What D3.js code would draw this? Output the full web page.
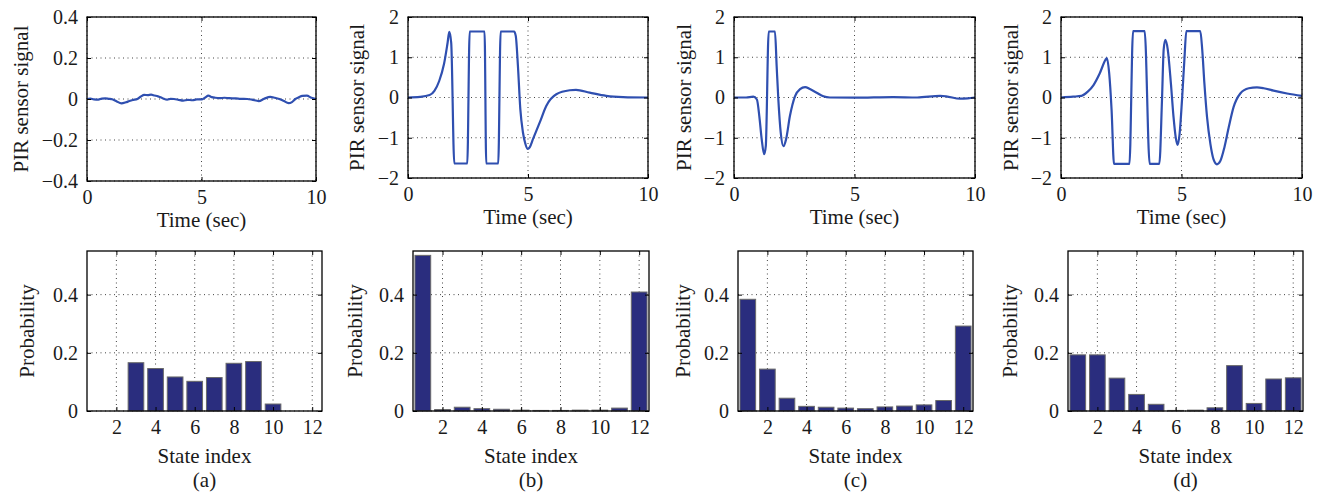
<!DOCTYPE html>
<html>
<head>
<meta charset="utf-8">
<script src="https://cdn.jsdelivr.net/npm/d3@7"></script>
<style>
  body { margin: 0; background: #fff; }
  svg text { font-family: "Liberation Serif", Times, "Times New Roman", "DejaVu Serif", serif !important; fill: #1a1a1a; }
  .tick text { font-size: 20px; }
  .tick line { stroke: #000; }
</style>
</head>
<body>
<svg width="1317" height="496"></svg>
<script>
// ---- data ----
// PIR signals, [time (sec), value]
var sigA = [[0,0],[0.15,0.002],[0.3,-0.002],[0.5,-0.003],[0.65,0.002],[0.8,0.003],[0.95,0.001],[1.1,-0.001],[1.3,-0.012],[1.5,-0.021],[1.7,-0.016],[1.85,-0.01],[2.0,-0.005],[2.2,0],
  [2.35,0.012],[2.5,0.02],[2.65,0.019],[2.8,0.021],[2.95,0.017],[3.1,0.013],[3.3,0.004],[3.5,-0.003],[3.65,0.001],[3.8,0],[4.0,-0.004],[4.2,-0.008],[4.4,-0.004],[4.6,-0.006],[4.8,-0.002],[5.0,-0.002],[5.15,0.006],[5.3,0.016],
  [5.45,0.009],[5.6,0.006],[5.8,0.004],[6.0,0.006],[6.2,0.004],[6.5,0.003],[6.7,0.001],[7.0,0],[7.2,-0.003],[7.5,-0.01],[7.75,0.002],[8.0,0.01],[8.2,0.006],[8.4,0],[8.6,-0.01],[8.8,-0.02],[8.95,-0.015],[9.1,0],[9.25,0.008],[9.4,0.015],[9.6,0.016],[9.8,0.006],[10,0]];

var sigB = [[0,0],[0.5,0.015],[0.9,0.06],[1.1,0.165],[1.3,0.41],[1.5,0.83],[1.65,1.36],[1.72,1.63],[1.8,1.36],[1.93,-1.64],
  [2.47,-1.64],[2.57,1.64],[3.19,1.64],[3.26,-1.64],[3.76,-1.64],[3.86,1.64],[4.42,1.64],[4.49,1.53],[4.58,0.79],[4.68,-0.29],
  [4.79,-0.87],[4.89,-1.15],[4.99,-1.28],[5.07,-1.24],[5.21,-1.03],[5.49,-0.62],[5.76,-0.21],[6.18,0.08],[6.74,0.18],[7.0,0.19],
  [7.57,0.12],[8.26,0.04],[8.96,0.01],[10,0]];

var sigC = [[0,0],[0.5,0],[0.8,0.02],[0.95,-0.05],[1.05,-0.46],[1.15,-1.04],[1.25,-1.41],[1.32,-1.2],[1.44,1.64],[1.70,1.64],
  [1.77,0.78],[1.84,-0.05],[1.94,-0.88],[2.05,-1.21],[2.16,-1.04],[2.32,-0.46],[2.53,0.03],[2.74,0.21],[2.95,0.26],[3.15,0.21],
  [3.43,0.12],[3.71,0.03],[3.98,0],[5.0,-0.005],[6.6,0.01],[7.6,0],[8.55,0.04],[8.8,0.03],[9.38,-0.03],[9.7,-0.02],[10,0]];

var sigD = [[0,0],[0.5,0.02],[0.85,0.04],[1.1,0.14],[1.35,0.31],[1.6,0.59],[1.85,0.94],[1.9,0.98],[2.0,0.6],[2.1,-0.32],
  [2.2,-1.65],[2.84,-1.65],[2.99,1.65],[3.47,1.65],[3.68,-1.65],[4.08,-1.65],[4.19,-0.07],[4.26,1.19],[4.33,1.43],[4.43,1.19],
  [4.56,0.35],[4.67,-0.49],[4.76,-0.99],[4.84,-1.18],[4.92,-0.91],[5.02,-0.07],[5.12,0.94],[5.2,1.65],[5.78,1.65],[5.86,1.19],
  [5.95,0.35],[6.06,-0.49],[6.2,-1.16],[6.33,-1.54],[6.47,-1.66],[6.61,-1.58],[6.78,-1.24],[6.96,-0.74],[7.16,-0.24],[7.44,0.1],
  [7.79,0.23],[8.13,0.25],[8.41,0.23],[8.82,0.17],[9.38,0.1],[10,0.04]];

// state probabilities, states 1..12
var states = [1,2,3,4,5,6,7,8,9,10,11,12];
var probA = [0,0,0.166,0.146,0.117,0.102,0.115,0.164,0.170,0.024,0,0];
var probB = [0.535,0.005,0.013,0.008,0.006,0.003,0.002,0.002,0.003,0.003,0.010,0.409];
var probC = [0.384,0.144,0.044,0.016,0.013,0.010,0.008,0.014,0.017,0.021,0.036,0.292];
var probD = [0.193,0.193,0.113,0.057,0.023,0.002,0.003,0.011,0.156,0.026,0.110,0.114];

var timeTicks = [0, 5, 10];
var stateTicks = [2, 4, 6, 8, 10, 12];
var probTicks = [0, 0.2, 0.4];
var captions = ["(a)", "(b)", "(c)", "(d)"];

// ---- layout ----
var svg = d3.select("svg");
var lineColor = "#2f4fb0", barColor = "#2a2d7e";

var topPanels = [
  {sig: sigA, x0: 87, x1: 316, y0: 17, y1: 181, dom: [-0.4, 0.4], ticks: [-0.4, -0.2, 0, 0.2, 0.4], lx: 21},
  {sig: sigB, x0: 408, x1: 648, y0: 17, y1: 178, dom: [-2, 2], ticks: [-2, -1, 0, 1, 2], lx: 357},
  {sig: sigC, x0: 734, x1: 975, y0: 17, y1: 178, dom: [-2, 2], ticks: [-2, -1, 0, 1, 2], lx: 684},
  {sig: sigD, x0: 1061, x1: 1302, y0: 17, y1: 178, dom: [-2, 2], ticks: [-2, -1, 0, 1, 2], lx: 1011}
];
var botPanels = [
  {prob: probA, x0: 87, x1: 322, lx: 27},
  {prob: probB, x0: 413, x1: 649, lx: 355},
  {prob: probC, x0: 738, x1: 973, lx: 683},
  {prob: probD, x0: 1068, x1: 1303, lx: 1010}
];
var by0 = 251, by1 = 411;
var serif = '"Liberation Serif", Times, "Times New Roman", "DejaVu Serif", serif';

function fmt(d) {
  if (Math.abs(d) < 1e-9) return "0";
  return Number.isInteger(d) ? d3.format("d")(d) : d3.format(".1f")(d);
}

function frame(g, x, y, xt, yt, x0, x1, y0, y1) {
  // dotted grid
  g.append("g").selectAll("line").data(xt).join("line")
    .attr("x1", d => x(d)).attr("x2", d => x(d)).attr("y1", y0).attr("y2", y1)
    .attr("stroke", "#444").attr("stroke-width", 1).attr("stroke-dasharray", "1,3.5");
  g.append("g").selectAll("line").data(yt).join("line")
    .attr("y1", d => y(d)).attr("y2", d => y(d)).attr("x1", x0).attr("x2", x1)
    .attr("stroke", "#444").attr("stroke-width", 1).attr("stroke-dasharray", "1,3.5");
}

function axes(g, x, y, xt, yt, x0, x1, y0, y1) {
  g.append("g").attr("transform", "translate(0," + y1 + ")")
    .call(d3.axisBottom(x).tickValues(xt).tickFormat(fmt).tickSizeInner(-4).tickSizeOuter(0).tickPadding(9))
    .call(a => a.select(".domain").remove());
  g.append("g").attr("transform", "translate(0," + y0 + ")")
    .call(d3.axisTop(x).tickValues(xt).tickFormat("").tickSizeInner(-4).tickSizeOuter(0))
    .call(a => a.select(".domain").remove());
  g.append("g").attr("transform", "translate(" + x0 + ",0)")
    .call(d3.axisLeft(y).tickValues(yt).tickFormat(fmt).tickSizeInner(-4).tickSizeOuter(0).tickPadding(9))
    .call(a => a.select(".domain").remove());
  g.append("g").attr("transform", "translate(" + x1 + ",0)")
    .call(d3.axisRight(y).tickValues(yt).tickFormat("").tickSizeInner(-4).tickSizeOuter(0))
    .call(a => a.select(".domain").remove());
  g.selectAll("g").attr("font-family", serif).attr("font-size", 20);
  g.append("rect").attr("x", x0).attr("y", y0).attr("width", x1 - x0).attr("height", y1 - y0)
    .attr("fill", "none").attr("stroke", "#000").attr("stroke-width", 1.3);
}

function label(g, x, y, rot, txt) {
  g.append("text")
    .attr("transform", "translate(" + x + "," + y + ")" + (rot ? " rotate(-90)" : ""))
    .attr("dy", rot ? "0.35em" : null)
    .attr("text-anchor", "middle")
    .attr("font-family", serif).attr("font-size", 21)
    .text(txt);
}

topPanels.forEach(function(p, i) {
  var g = svg.append("g");
  var x = d3.scaleLinear().domain([0, 10]).range([p.x0, p.x1]);
  var y = d3.scaleLinear().domain(p.dom).range([p.y1, p.y0]);
  frame(g, x, y, timeTicks, p.ticks, p.x0, p.x1, p.y0, p.y1);

  var line = d3.line().curve(d3.curveMonotoneX)
    .x(d => x(d[0])).y(d => y(d[1]));
  g.append("path").datum(p.sig).attr("d", line)
    .attr("fill", "none").attr("stroke", lineColor).attr("stroke-width", 2.2)
    .attr("stroke-linejoin", "round");

  axes(g, x, y, timeTicks, p.ticks, p.x0, p.x1, p.y0, p.y1);

  label(g, (p.x0 + p.x1) / 2, p.y1 + 46, false, "Time (sec)");
  label(g, p.lx, (p.y0 + p.y1) / 2, true, "PIR sensor signal");
});

botPanels.forEach(function(p, i) {
  var g = svg.append("g");
  var x = d3.scaleLinear().domain([0.5, 12.5]).range([p.x0, p.x1]);
  var y = d3.scaleLinear().domain([0, 0.55]).range([by1, by0]);
  frame(g, x, y, stateTicks, probTicks, p.x0, p.x1, by0, by1);

  var bw = (x(1) - x(0)) * 0.8;
  g.append("g").selectAll("rect").data(p.prob).join("rect")
    .attr("x", (d, j) => x(states[j]) - bw / 2)
    .attr("y", d => y(d))
    .attr("width", bw)
    .attr("height", d => y(0) - y(d))
    .attr("fill", barColor).attr("stroke", "#6a6a6a").attr("stroke-width", 1);

  axes(g, x, y, stateTicks, probTicks, p.x0, p.x1, by0, by1);

  label(g, (p.x0 + p.x1) / 2, 463, false, "State index");
  label(g, (p.x0 + p.x1) / 2, 487, false, captions[i]);
  label(g, p.lx, (by0 + by1) / 2, true, "Probability");
});
</script>
</body>
</html>
